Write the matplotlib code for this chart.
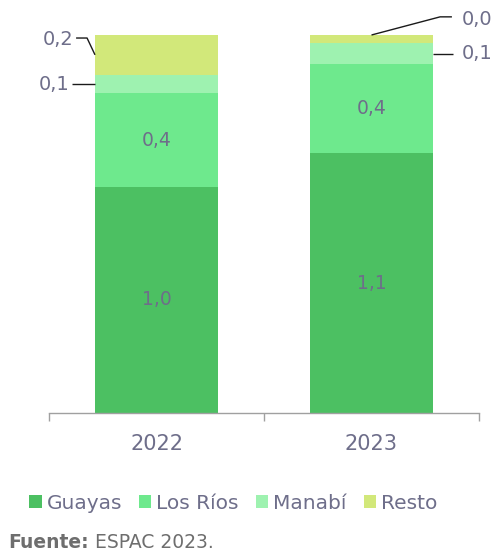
import matplotlib
matplotlib.use("Agg")
import matplotlib.pyplot as plt
from matplotlib.patches import Patch
import numpy as np

years = ["2022", "2023"]
provinces = ["Guayas", "Los Ríos", "Manabí", "Resto"]
guayas = [0.97, 1.10]
los_rios = [0.40, 0.38]
manabi = [0.08, 0.085]
resto = [0.17, 0.036]

colors = ["#4CC062", "#6EE98D", "#9EF2B0", "#D2E87A"]
text_color = "#6E6E8A"
font = "DejaVu Sans"

series = np.array([guayas, los_rios, manabi, resto])
shares = series / series.sum(axis=0)


def fmt(v):
    return f"{v:.1f}".replace(".", ",")


fig = plt.figure(figsize=(4.92, 5.51), dpi=100)
ax = fig.add_axes([49 / 492, 1 - 413 / 551, 430 / 492, 378 / 551])

x = np.arange(len(years))
width = 0.572
bottom = np.zeros(len(years))
for share, col in zip(shares, colors):
    ax.bar(x, share, width, bottom=bottom, color=col, edgecolor="none")
    bottom += share

# labels inside the big segments
for i in range(len(years)):
    base = 0.0
    for k in range(2):
        mid = base + shares[k, i] / 2
        ax.text(x[i], mid, fmt(series[k, i]), ha="center", va="center",
                fontsize=13.5, color=text_color, family=font)
        base += shares[k, i]

line_kw = dict(color="#1a1a1a", lw=1.0, solid_capstyle="butt", clip_on=False)
half = width / 2
cum = shares.cumsum(axis=0)

# 2022: small segments labelled on the left
man_mid = cum[1, 0] + shares[2, 0] / 2
res_mid = cum[2, 0] + shares[3, 0] / 2
left = x[0] - half
ax.plot([left - 0.107, left], [man_mid, man_mid], **line_kw)
ax.text(left - 0.12, man_mid, fmt(series[2, 0]), ha="right", va="center",
        fontsize=14, color=text_color, family=font)
ax.plot([left - 0.088, left - 0.037, left], [cum[3, 0] - 0.008, cum[3, 0] - 0.008, res_mid],
        **line_kw)
ax.text(left - 0.10, cum[3, 0] - 0.013, fmt(series[3, 0]), ha="right", va="center",
        fontsize=14, color=text_color, family=font)

# 2023: small segments labelled on the right
right = x[1] + half
man_mid = cum[1, 1] + shares[2, 1] / 2
ax.plot([right, right + 0.093], [man_mid, man_mid], **line_kw)
ax.text(right + 0.135, man_mid, fmt(series[2, 1]), ha="left", va="center",
        fontsize=14, color=text_color, family=font)
top = cum[3, 1]
ax.plot([x[1], right + 0.033, right + 0.088], [top, top + 0.048, top + 0.048], **line_kw)
ax.text(right + 0.135, top + 0.04, fmt(series[3, 1]), ha="left", va="center",
        fontsize=14, color=text_color, family=font)

ax.set_xlim(-0.5, 1.5)
ax.set_ylim(0, 1)
ax.set_yticks([])
for s in ["top", "right", "left"]:
    ax.spines[s].set_visible(False)
ax.spines["bottom"].set_color("#A0A0A0")
ax.spines["bottom"].set_linewidth(1.0)
ax.set_xticks(x)
ax.set_xticklabels(years, fontsize=15, color=text_color, family=font)
ax.tick_params(axis="x", which="major", length=0, pad=15)
ax.set_xticks([-0.5, 0.5, 1.5], minor=True)
ax.tick_params(axis="x", which="minor", length=6, width=1.0, color="#A0A0A0")

handles = [Patch(facecolor=c, edgecolor="none") for c in colors]
leg = fig.legend(handles, provinces, loc="center", bbox_to_anchor=(0.474, 0.087),
                 ncol=4, frameon=False, handlelength=0.6, handleheight=0.6,
                 handletextpad=0.25, columnspacing=0.85,
                 prop={"family": font, "size": 14.5})
for t in leg.get_texts():
    t.set_color(text_color)

# source note: bold "Fuente:" followed by the plain text
src_y = 1 - 542 / 551
lbl = fig.text(8 / 492, src_y, "Fuente:", fontsize=13.5, fontweight="bold",
               color="#6E6E6E", family=font, va="center", ha="left")
fig.canvas.draw()
bb = lbl.get_window_extent().transformed(fig.transFigure.inverted())
fig.text(bb.x1 + 6 / 492, src_y, "ESPAC 2023.", fontsize=13.5,
         color="#6E6E6E", family=font, va="center", ha="left")

fig.savefig("out.png", dpi=100)
